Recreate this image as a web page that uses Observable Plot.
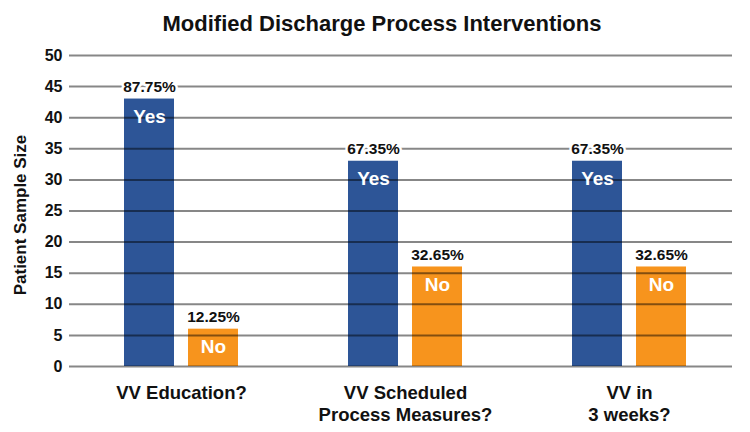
<!DOCTYPE html>
<html>
<head>
<meta charset="utf-8">
<script src="https://cdn.jsdelivr.net/npm/d3@7"></script>
<script src="https://cdn.jsdelivr.net/npm/@observablehq/plot@0.6"></script>
<style>
  html, body { margin: 0; padding: 0; background: #fff; }
  #chart { width: 750px; font-family: "Liberation Sans", Arial, sans-serif; }
  .title { height: 48px; line-height: 48px; text-align: center; font-size: 22px; font-weight: bold; color: #111; padding-left: 14px; box-sizing: border-box; }
</style>
</head>
<body>
<div id="chart">
  <div class="title">Modified Discharge Process Interventions</div>
</div>
<script>
// Survey questions (one bar group each) and the two answers
const groups = ["VV Education?", "VV Scheduled\nProcess Measures?", "VV in\n3 weeks?"];
const answers = ["Yes", "No"];

// Patient counts per question
const yesCounts = [43, 33, 33];
const noCounts = [6, 16, 16];

// Share of the sample for each count
const yesShare = ["87.75%", "67.35%", "67.35%"];
const noShare = ["12.25%", "32.65%", "32.65%"];

const yTicks = [0, 5, 10, 15, 20, 25, 30, 35, 40, 45, 50];

const colors = {Yes: "#2D5597", No: "#F7941D"};

const rows = groups.flatMap((g, i) => [
  {group: g, answer: "Yes", count: yesCounts[i], share: yesShare[i]},
  {group: g, answer: "No", count: noCounts[i], share: noShare[i]}
]);

// Horizontal grid lines, one set per question panel
const gridRows = groups.flatMap(g => yTicks.map(t => ({group: g, tick: t})));
const lastGroup = groups[groups.length - 1];
const gridStyle = {fx: "group", y: "tick", stroke: "#000", strokeOpacity: 0.47, strokeWidth: 2};

const chart = Plot.plot({
  width: 750,
  height: 384,
  marginTop: 7,
  marginBottom: 66,
  marginLeft: 69,
  marginRight: 9,
  style: {fontFamily: "'Liberation Sans', Arial, sans-serif", fontWeight: "bold", color: "#111", background: "#fff"},
  fx: {domain: groups, padding: 0, label: null},
  x: {domain: answers, paddingInner: 0.22, paddingOuter: 0.86, axis: null},
  y: {domain: [0, 50], label: null},
  marks: [
    Plot.barY(rows, {fx: "group", x: "answer", y: "count", fill: d => colors[d.answer]}),
    Plot.ruleY(gridRows.filter(d => d.group !== lastGroup), gridStyle),
    Plot.ruleY(gridRows.filter(d => d.group === lastGroup), {...gridStyle, insetRight: 9}),
    Plot.axisY({ticks: yTicks, tickSize: 0, tickPadding: 7, fontSize: 16, fontWeight: "bold", label: null}),
    Plot.axisFx({anchor: "bottom", tickSize: 0, tickPadding: 17.5, fontSize: 18.5, fontWeight: "bold", lineHeight: 1.17, label: null}),
    Plot.text(rows, {fx: "group", x: "answer", y: "count", text: "share", dy: -12, lineAnchor: "middle",
      fontSize: 15.5, fontWeight: "bold", fill: "#111", stroke: "white", strokeWidth: 5}),
    Plot.text(rows, {fx: "group", x: "answer", y: "count", text: "answer", dy: 18, lineAnchor: "middle",
      fontSize: 19, fontWeight: "bold", fill: "white"}),
    Plot.text(["Patient Sample Size"], {facet: "super", frameAnchor: "left", dx: -49, dy: 4, rotate: -90,
      textAnchor: "middle", lineAnchor: "middle", fontSize: 17, fontWeight: "bold", fill: "#111"})
  ]
});

document.getElementById("chart").appendChild(chart);
</script>
</body>
</html>
